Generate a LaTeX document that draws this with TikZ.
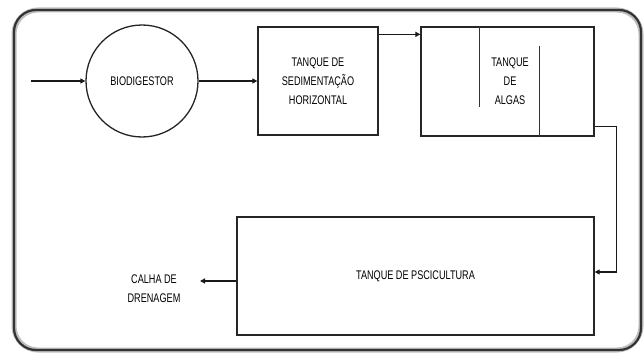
\documentclass[tikz,border=0pt]{standalone}
\usepackage{fontspec}
\setmainfont{Liberation Sans}[FakeStretch=0.73]
\usetikzlibrary{arrows.meta,positioning,calc}
\tikzset{
  tankbox/.style={
    rectangle, draw=black!85, line width=1.3pt, inner sep=0pt,
    align=center, font=\fontsize{12.5}{19}\selectfont
  },
  flowarrow/.style={-{Triangle[length=5pt,width=5pt]}, line width=1.3pt, black!90}
}

\begin{document}
\begin{tikzpicture}[x=1pt,y=-1pt]
\useasboundingbox (0,0) rectangle (644,353);
% moldura
\draw[line width=5pt, black!25, rounded corners=24pt] (14,10) rectangle (641,350);
\draw[line width=2.2pt, black!80, rounded corners=22pt] (14,10) rectangle (641,350);

\node[tankbox, circle, minimum size=112pt] (bio) at (142,81) {BIODIGESTOR};
\node[tankbox, minimum width=120pt, minimum height=108pt] (sed) at (318,81)
  {TANQUE DE\\SEDIMENTAÇÃO\\HORIZONTAL};
\node[tankbox, minimum width=173pt, minimum height=109pt] (algas) at (507.5,81.5) {};
\node[font=\fontsize{12.5}{19}\selectfont, align=center] (algastxt) at (510,81) {TANQUE\\DE\\ALGAS};
\node[tankbox, minimum width=357pt, minimum height=118pt] (pisc) at (415.5,276)
  {TANQUE DE PSCICULTURA};
\node[font=\fontsize{12.5}{19}\selectfont, align=center] (calha) at (154,289) {CALHA DE\\DRENAGEM};

% divisorias do tanque de algas
\draw[line width=1pt, black!80] ($(algas.north west)+(59,0)$) -- ++(0,81);
\draw[line width=1pt, black!80] ($(algas.south west)+(119,0)$) -- ++(0,-91);

\coordinate (entrada) at (31,81);
\coordinate (dreno) at (200,281);

\draw[flowarrow] (entrada) -- (bio.west);
\draw[flowarrow] (bio.east) -- (sed.west);
\draw[flowarrow] ($(sed.north east)+(0,8)$) -- ($(algas.north west)+(0,8)$);
\draw[flowarrow] ($(algas.south east)+(0,-10)$) -- ++(22,0) |- ($(pisc.east)+(0,-4)$);
\draw[flowarrow] (pisc.west |- dreno) -- (dreno);
\end{tikzpicture}
\end{document}
